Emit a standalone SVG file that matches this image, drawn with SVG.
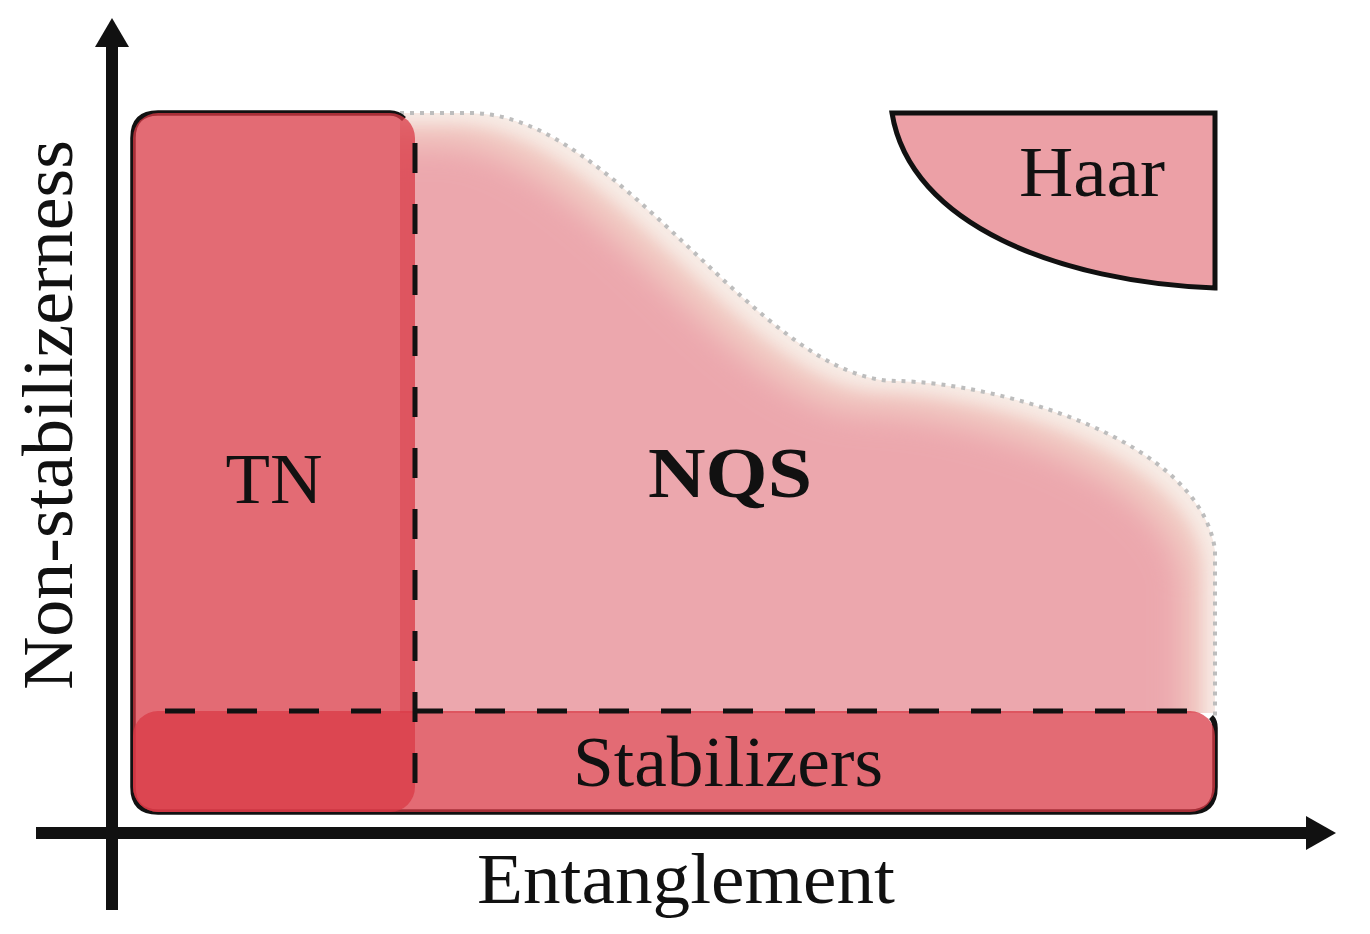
<svg xmlns="http://www.w3.org/2000/svg" width="1370" height="934" viewBox="0 0 1370 934">
<defs>
<style>
.lbl{font-family:"Liberation Serif","DejaVu Serif",serif;fill:#111;font-size:72px}
.dash{stroke:#111;stroke-width:5;fill:none;stroke-dasharray:30 31}
.box{fill:rgb(218,58,70);fill-opacity:0.75}
</style>
<clipPath id="nqsClip"><path d="M400,113 L470,113 C620,113 760,381 897,381 C1000,383 1200,440 1215,550 L1215,713 L400,713 Z"/></clipPath>
<filter id="soft" x="-10%" y="-10%" width="120%" height="120%">
<feMorphology operator="erode" radius="30"/>
<feGaussianBlur stdDeviation="16"/>
</filter>
<filter id="soft2" x="-10%" y="-10%" width="120%" height="120%">
<feMorphology operator="erode" radius="12"/>
<feGaussianBlur stdDeviation="8"/>
</filter>
</defs>
<rect width="1370" height="934" fill="#fff"/>

<g id="nqs">
<g clip-path="url(#nqsClip)">
<path d="M400,113 L470,113 C620,113 760,381 897,381 C1000,383 1200,440 1215,550 L1215,713 L400,713 Z" fill="#f7ece6"/>
<path d="M340,113 L470,113 C620,113 760,381 897,381 C1000,383 1200,440 1215,550 L1215,800 L340,800 Z" fill="#f2cfc6" filter="url(#soft2)"/>
<path d="M340,113 L470,113 C620,113 760,381 897,381 C1000,383 1200,440 1215,550 L1215,800 L340,800 Z" fill="#eca7ad" filter="url(#soft)"/>
</g>
<path d="M400,113 L470,113 C620,113 760,381 897,381 C1000,383 1200,440 1215,550 L1215,718" fill="none" stroke="#bdbdbd" stroke-width="4" stroke-dasharray="4 6"/>
<text class="lbl" x="730" y="497" text-anchor="middle" font-weight="bold" textLength="164" lengthAdjust="spacingAndGlyphs">NQS</text>
</g>

<g id="haar">
<path d="M892,113 L1215,113 L1215,288 C1060,282 910,225 892,113 Z" fill="#eca0a6" stroke="#111" stroke-width="5" stroke-linejoin="miter"/>
<text class="lbl" x="1092" y="196" text-anchor="middle" textLength="146" lengthAdjust="spacingAndGlyphs">Haar</text>
</g>

<g id="outline">
<path d="M404,119 C400,115 396,113 390,113 L158,113 Q133,113 133,138 L133,787 Q133,812 158,812 L1190,812 Q1215,812 1215,787 L1215,728 Q1215,721 1211,717" fill="none" stroke="#111" stroke-width="5.5"/>
</g>

<g id="stabilizers">
<rect class="box" x="133" y="711" width="1082" height="101" rx="25"/>
<text class="lbl" x="728" y="786" text-anchor="middle" textLength="310" lengthAdjust="spacingAndGlyphs">Stabilizers</text>
</g>

<g id="tn">
<rect class="box" x="133" y="113" width="282" height="699" rx="25"/>
<text class="lbl" x="274" y="503" text-anchor="middle" textLength="97" lengthAdjust="spacingAndGlyphs">TN</text>
</g>

<g id="connectors">
<line class="dash" x1="415" y1="143" x2="415" y2="812"/>
<line class="dash" x1="165" y1="711" x2="1215" y2="711" style="stroke-dasharray:30 32"/>
</g>

<g id="axes">
<line x1="112" y1="910" x2="112" y2="44" stroke="#111" stroke-width="12"/>
<polygon points="112,18 95,47 129,47" fill="#111"/>
<line x1="36" y1="833" x2="1308" y2="833" stroke="#111" stroke-width="12"/>
<polygon points="1336,833 1306,816 1306,850" fill="#111"/>
<text class="lbl" x="686" y="903" text-anchor="middle" textLength="418" lengthAdjust="spacingAndGlyphs">Entanglement</text>
<text class="lbl" transform="translate(72,415) rotate(-90)" x="0" y="0" text-anchor="middle" textLength="550" lengthAdjust="spacingAndGlyphs">Non-stabilizerness</text>
</g>
</svg>
